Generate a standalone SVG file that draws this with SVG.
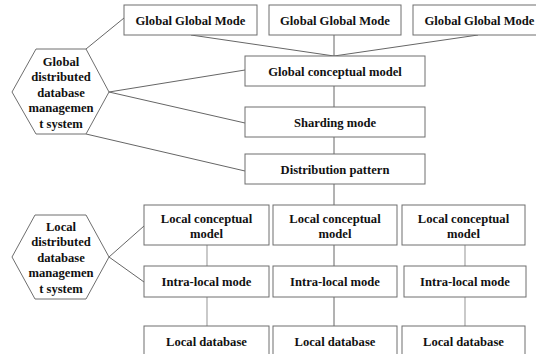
<svg xmlns="http://www.w3.org/2000/svg" width="536" height="354" viewBox="0 0 536 354">
  <style>
    .box { fill: #ffffff; stroke: #6e6e6e; stroke-width: 1; }
    .hex { fill: #ffffff; stroke: #6e6e6e; stroke-width: 1; }
    text { font-family: 'Liberation Serif', 'Times New Roman', 'DejaVu Serif', serif; font-weight: 700; font-size: 12.6px; fill: #111111; text-anchor: middle; }
    .edge { stroke: #666666; stroke-width: 1; fill: none; }
    .edge-lite { stroke: #a6a6a6; stroke-width: 1.2; fill: none; }
  </style>
  <rect width="536" height="354" fill="#ffffff"/>

  <!-- connectors -->
  <g id="connectors">
    <line class="edge" x1="191" y1="35" x2="334" y2="56"/>
    <line class="edge" x1="334" y1="35" x2="334" y2="56"/>
    <line class="edge" x1="478" y1="35" x2="334" y2="56"/>
    <line class="edge" x1="334" y1="86" x2="334" y2="107"/>
    <line class="edge" x1="334" y1="137" x2="334" y2="154"/>
    <line class="edge" x1="334" y1="184" x2="334" y2="205"/>
    <line class="edge" x1="86" y1="49" x2="124" y2="18"/>
    <line class="edge" x1="109" y1="92" x2="245" y2="70"/>
    <line class="edge" x1="109" y1="92" x2="245" y2="123"/>
    <line class="edge" x1="86" y1="134" x2="245" y2="171"/>
    <line class="edge" x1="109" y1="257" x2="144" y2="226"/>
    <line class="edge" x1="109" y1="257" x2="144" y2="282"/>
    <line class="edge-lite" x1="207" y1="245" x2="207" y2="266"/>
    <line class="edge-lite" x1="207" y1="297" x2="207" y2="326"/>
    <line class="edge" x1="334" y1="245" x2="334" y2="266"/>
    <line class="edge" x1="334" y1="297" x2="334" y2="326"/>
    <line class="edge-lite" x1="465" y1="245" x2="465" y2="266"/>
    <line class="edge-lite" x1="465" y1="297" x2="465" y2="326"/>
  </g>

  <!-- global level -->
  <g id="global-mode-1">
    <rect class="box" x="124" y="5" width="133" height="30"/>
    <text x="190.5" y="24.5">Global Global Mode</text>
  </g>
  <g id="global-mode-2">
    <rect class="box" x="269" y="5" width="132" height="30"/>
    <text x="335" y="24.5">Global Global Mode</text>
  </g>
  <g id="global-mode-3">
    <rect class="box" x="413" y="5" width="134" height="30"/>
    <text x="479.5" y="24.5">Global Global Mode</text>
  </g>
  <g id="global-conceptual-model">
    <rect class="box" x="245" y="56" width="180" height="30"/>
    <text x="335" y="75.5">Global conceptual model</text>
  </g>
  <g id="sharding-mode">
    <rect class="box" x="245" y="107" width="180" height="30"/>
    <text x="335" y="126.5">Sharding mode</text>
  </g>
  <g id="distribution-pattern">
    <rect class="box" x="245" y="154" width="180" height="30"/>
    <text x="335" y="173.5">Distribution pattern</text>
  </g>
  <g id="global-ddbms">
    <polygon class="hex" points="12,92 36,49 86,49 109,92 86,134 36,134"/>
    <text x="61" y="65.5">Global</text>
    <text x="61" y="81">distributed</text>
    <text x="61" y="96.5">database</text>
    <text x="61" y="112">managemen</text>
    <text x="61" y="127.5">t system</text>
  </g>

  <!-- local level -->
  <g id="local-ddbms">
    <polygon class="hex" points="12,257 35,215 86,215 109,257 86,299 35,299"/>
    <text x="61" y="230.5">Local</text>
    <text x="61" y="246">distributed</text>
    <text x="61" y="261.5">database</text>
    <text x="61" y="277">managemen</text>
    <text x="61" y="292.5">t system</text>
  </g>
  <g id="local-conceptual-1">
    <rect class="box" x="144" y="205" width="125" height="40"/>
    <text x="206.5" y="222.5">Local conceptual</text>
    <text x="206.5" y="237.5">model</text>
  </g>
  <g id="local-conceptual-2">
    <rect class="box" x="273" y="205" width="124" height="40"/>
    <text x="335" y="222.5">Local conceptual</text>
    <text x="335" y="237.5">model</text>
  </g>
  <g id="local-conceptual-3">
    <rect class="box" x="402" y="205" width="123" height="40"/>
    <text x="463.5" y="222.5">Local conceptual</text>
    <text x="463.5" y="237.5">model</text>
  </g>
  <g id="intra-local-1">
    <rect class="box" x="144" y="266" width="125" height="31"/>
    <text x="206.5" y="286">Intra-local mode</text>
  </g>
  <g id="intra-local-2">
    <rect class="box" x="273" y="266" width="124" height="31"/>
    <text x="335" y="286">Intra-local mode</text>
  </g>
  <g id="intra-local-3">
    <rect class="box" x="404" y="266" width="122" height="31"/>
    <text x="465" y="286">Intra-local mode</text>
  </g>
  <g id="local-database-1">
    <rect class="box" x="144" y="326" width="125" height="40"/>
    <text x="206.5" y="345.5">Local database</text>
  </g>
  <g id="local-database-2">
    <rect class="box" x="273" y="326" width="124" height="40"/>
    <text x="335" y="345.5">Local database</text>
  </g>
  <g id="local-database-3">
    <rect class="box" x="402" y="326" width="123" height="40"/>
    <text x="463.5" y="345.5">Local database</text>
  </g>
</svg>
